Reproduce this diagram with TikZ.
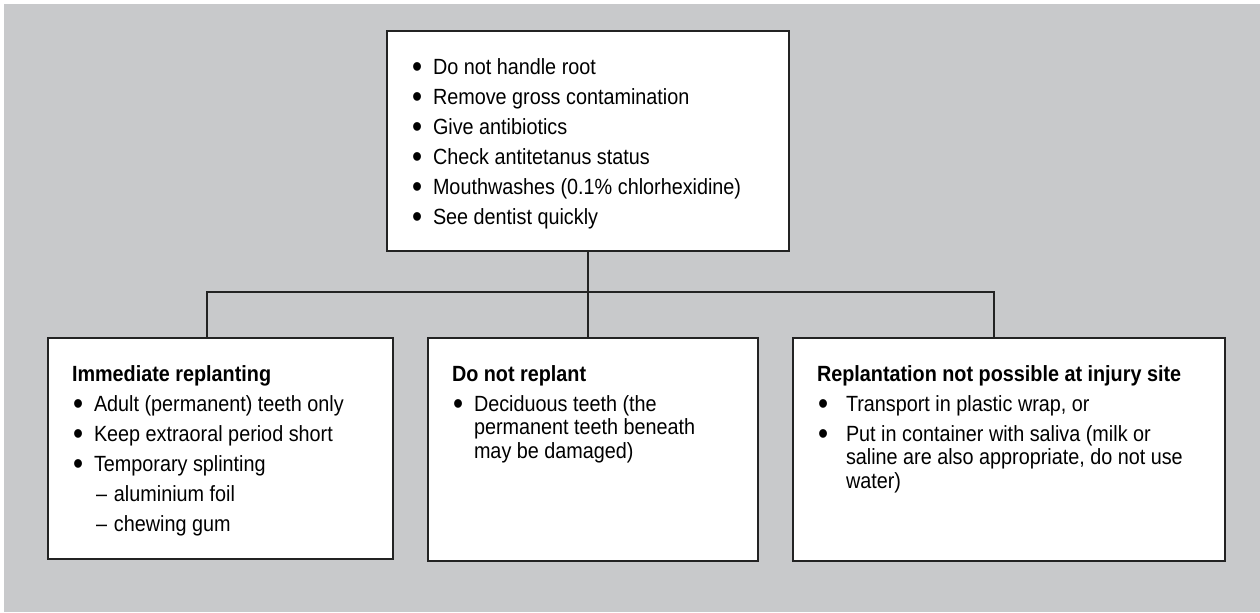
\documentclass[tikz,border=0pt]{standalone}
\usepackage{fontspec}
\usepackage{graphicx}
\setmainfont{Liberation Sans}[FakeStretch=0.9]

\definecolor{bggray}{RGB}{200,201,203}
\definecolor{edgegray}{RGB}{35,35,35}

\newcommand{\padtop}{\rule{0pt}{21.5pt}}
\newcommand{\bigdot}{\raisebox{-1.8pt}{\scalebox{1.45}{\textbullet}}}
\newcommand{\bitem}[2][11pt]{\par\hangindent=#1\hangafter=1\noindent\makebox[#1][l]{\hspace{0.5pt}\bigdot}#2}
\newcommand{\ditem}[1]{\par\hangindent=21pt\hangafter=1\noindent\hspace{11pt}\makebox[10pt][l]{\hspace{1pt}--}#1}
\newcommand{\panel}[3]{\parbox[t][#2][t]{#1}{\fontsize{11}{11.75}\selectfont\setlength{\parskip}{3.25pt}\raggedright #3}}

\begin{document}
\begin{tikzpicture}[x=0.5pt,y=-0.5pt]
\tikzset{
  box/.style={draw=edgegray, fill=white, line width=1pt, anchor=north west,
    inner xsep=12pt, inner ysep=0pt},
  wire/.style={draw=edgegray, line width=0.8pt},
}
\useasboundingbox (0,0) rectangle (1260,612);
\fill[bggray] (4,4) rectangle (1260,612);

% top box
\node[box] (top) at (386,30) {\panel{177pt}{110pt}{%
  \bitem{\padtop Do not handle root}
  \bitem{Remove gross contamination}
  \bitem{Give antibiotics}
  \bitem{Check antitetanus status}
  \bitem{Mouthwashes (0.1\% chlorhexidine)}
  \bitem{See dentist quickly}}};

% three options
\node[box] (left) at (47,337) {\panel{148.5pt}{110.5pt}{%
  \textbf{\padtop Immediate replanting}
  \bitem{Adult (permanent) teeth only}
  \bitem{Keep extraoral period short}
  \bitem{Temporary splinting}
  \ditem{aluminium foil}
  \ditem{chewing gum}}};
\node[box] (mid) at (427,337) {\panel{141pt}{111.5pt}{%
  \textbf{\padtop Do not replant}
  \bitem{Deciduous teeth (the\newline permanent teeth beneath\newline may be damaged)}}};
\node[box] (right) at (792,337) {\panel{192pt}{111.5pt}{%
  \textbf{\padtop Replantation not possible at injury site}
  \bitem[14.5pt]{Transport in plastic wrap, or}
  \bitem[14.5pt]{Put in container with saliva (milk or\newline saline are also appropriate, do not use\newline water)}}};

% connectors
\coordinate (busL) at (207,292);
\coordinate (busR) at (994,292);
\draw[wire] (top.south) -- (top.south |- mid.north);
\draw[wire] (busL |- left.north) -- (busL) -- (busR) -- (busR |- right.north);
\end{tikzpicture}
\end{document}
